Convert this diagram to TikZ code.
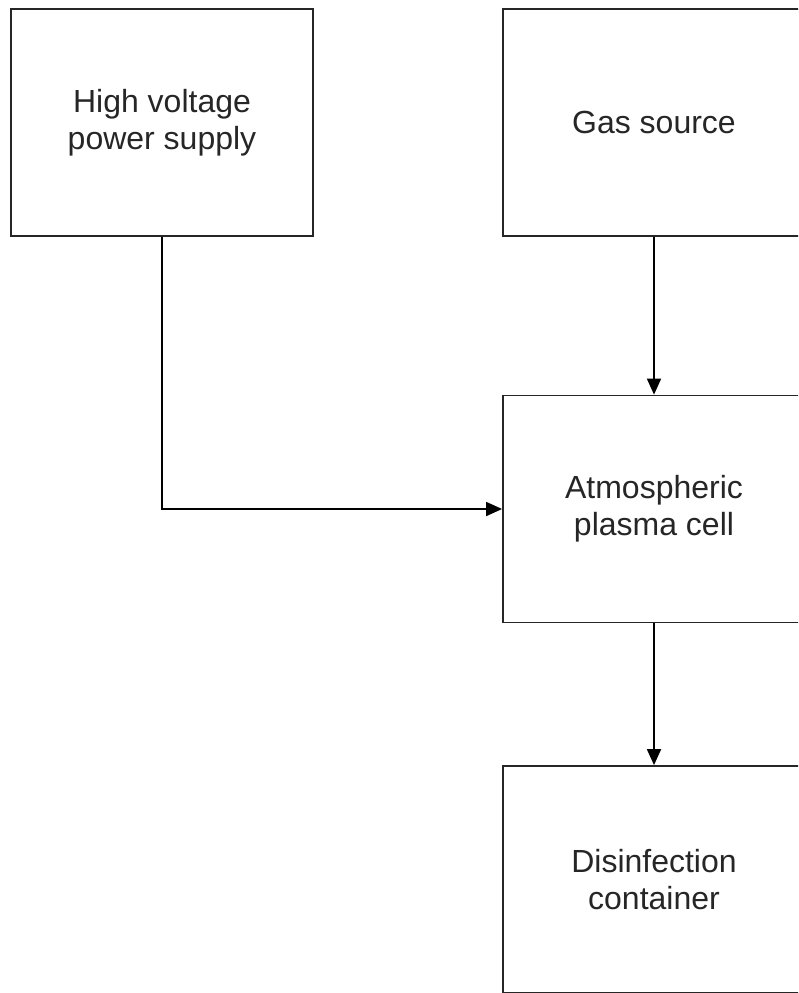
\documentclass[tikz,border=0pt]{standalone}
\usepackage{fontspec}
\setmainfont{Liberation Sans}
\usetikzlibrary{arrows.meta}
\begin{document}
\begin{tikzpicture}[x=1pt,y=-1pt,
  blockbox/.style={draw=black!85, line width=1.8pt, minimum width=302pt, minimum height=227pt,
    align=center, font=\fontsize{32}{37}\selectfont, text=black!85, inner sep=0pt},
  link/.style={draw=black, line width=1.8pt, -{Triangle[length=16pt,width=14pt]}}]
\useasboundingbox (0,0) rectangle (798,993);
\clip (0,0) rectangle (798,993);
\node[blockbox] (hv) at (162,122.5) {High voltage\\power supply};
\node[blockbox] (gas) at (654,122.5) {Gas source};
\node[blockbox] (plasma) at (654,509) {Atmospheric\\plasma cell};
\node[blockbox] (dis) at (654,879.5) {Disinfection\\container};
\draw[link] (gas.south) -- (plasma.north);
\draw[link] (plasma.south) -- (dis.north);
\draw[link] (hv.south) |- (plasma.west);
\end{tikzpicture}
\end{document}
